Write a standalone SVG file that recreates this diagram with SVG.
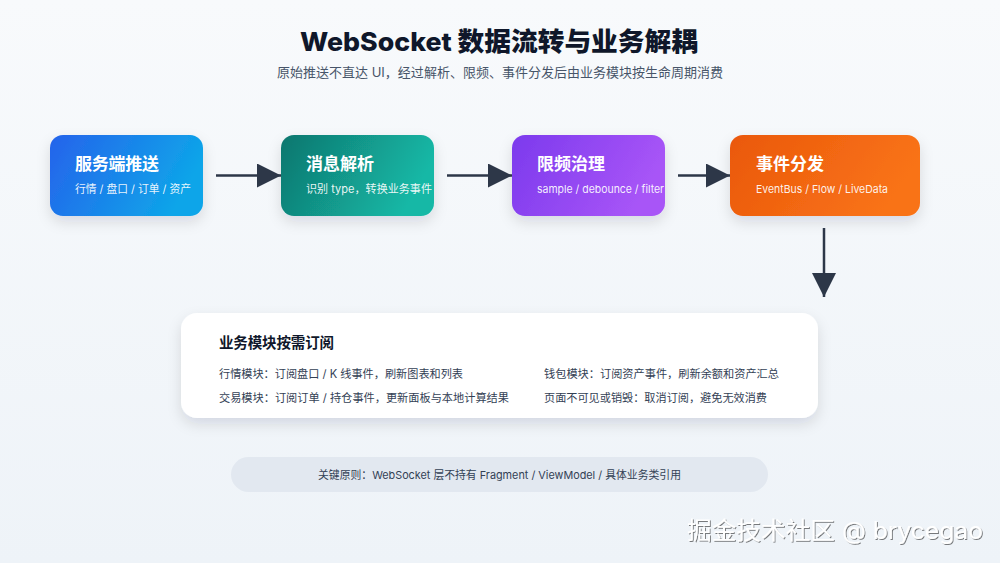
<svg xmlns="http://www.w3.org/2000/svg" width="1000" height="563" viewBox="0 0 1000 563">
<defs>
<linearGradient id="bg" x1="0" y1="0" x2="0" y2="1"><stop offset="0" stop-color="#f8fafc"/><stop offset="1" stop-color="#eef3f8"/></linearGradient>
<linearGradient id="g1" x1="0" y1="0" x2="1" y2="0.3"><stop offset="0" stop-color="#2563eb"/><stop offset="1" stop-color="#0ea5e9"/></linearGradient>
<linearGradient id="g2" x1="0" y1="0" x2="1" y2="0.3"><stop offset="0" stop-color="#0f766e"/><stop offset="1" stop-color="#14b8a6"/></linearGradient>
<linearGradient id="g3" x1="0" y1="0" x2="1" y2="0.3"><stop offset="0" stop-color="#7c3aed"/><stop offset="1" stop-color="#a855f7"/></linearGradient>
<linearGradient id="g4" x1="0" y1="0" x2="1" y2="0.3"><stop offset="0" stop-color="#ea580c"/><stop offset="1" stop-color="#f97316"/></linearGradient>
<filter id="sh" x="-20%" y="-30%" width="140%" height="170%"><feDropShadow dx="0" dy="6" stdDeviation="7" flood-color="#0f172a" flood-opacity="0.12"/></filter>
<filter id="wm" x="-5%" y="-20%" width="110%" height="140%"><feDropShadow dx="1" dy="1" stdDeviation="0.5" flood-color="#000" flood-opacity="0.5"/></filter>
<marker id="ah" viewBox="0 0 10 10" refX="10" refY="5" markerWidth="25" markerHeight="24" markerUnits="userSpaceOnUse" orient="auto"><path d="M0,0 L10,5 L0,10 Z" fill="#2d3748"/></marker>
<style>
text{font-family:Inter,"Noto Sans CJK SC",sans-serif}
.nt{font-size:17px;font-weight:700;fill:#fff}
.ns{font-size:11px;fill:#fff;fill-opacity:0.92}
.ln{stroke:#2d3748;stroke-width:2.5;fill:none}
.ct{font-size:11.3px;fill:#334155}
</style>
</defs>
<rect width="1000" height="563" fill="url(#bg)"/>
<text x="300" y="51" font-size="26" font-weight="800" fill="#0f172a" textLength="398" lengthAdjust="spacingAndGlyphs">WebSocket 数据流转与业务解耦</text>
<text x="277" y="77" font-size="13" fill="#475569" textLength="446" lengthAdjust="spacingAndGlyphs">原始推送不直达 UI，经过解析、限频、事件分发后由业务模块按生命周期消费</text>

<g id="n1"><rect x="50" y="135" width="153" height="81" rx="13" fill="url(#g1)" filter="url(#sh)"/><text x="75" y="170" class="nt" textLength="84">服务端推送</text><text x="75" y="193" class="ns" textLength="116" lengthAdjust="spacingAndGlyphs">行情 / 盘口 / 订单 / 资产</text></g>
<g id="n2"><rect x="281" y="135" width="153" height="81" rx="13" fill="url(#g2)" filter="url(#sh)"/><text x="306" y="170" class="nt" textLength="68">消息解析</text><text x="306" y="193" class="ns" textLength="126" lengthAdjust="spacingAndGlyphs">识别 type，转换业务事件</text></g>
<g id="n3"><rect x="512" y="135" width="153" height="81" rx="13" fill="url(#g3)" filter="url(#sh)"/><text x="537" y="170" class="nt" textLength="68">限频治理</text><text x="537" y="193" class="ns" textLength="127" lengthAdjust="spacingAndGlyphs">sample / debounce / filter</text></g>
<g id="n4"><rect x="730" y="135" width="190" height="81" rx="13" fill="url(#g4)" filter="url(#sh)"/><text x="756" y="170" class="nt" textLength="68">事件分发</text><text x="756" y="193" class="ns" textLength="132" lengthAdjust="spacingAndGlyphs">EventBus / Flow / LiveData</text></g>

<g id="connectors">
<line x1="216" y1="175.5" x2="281" y2="175.5" class="ln" marker-end="url(#ah)"/>
<line x1="447" y1="175.5" x2="512" y2="175.5" class="ln" marker-end="url(#ah)"/>
<line x1="678" y1="175.5" x2="730" y2="175.5" class="ln" marker-end="url(#ah)"/>
<line x1="824" y1="228" x2="824" y2="297" class="ln" marker-end="url(#ah)"/>
</g>

<g id="modules"><rect x="181" y="313" width="637" height="105" rx="16" fill="#fff" filter="url(#sh)"/>
<text x="219" y="348" font-size="14.5" font-weight="700" fill="#0f172a" textLength="115">业务模块按需订阅</text>
<text x="219" y="378" class="ct" textLength="244" lengthAdjust="spacingAndGlyphs">行情模块：订阅盘口 / K 线事件，刷新图表和列表</text>
<text x="219" y="402" class="ct" textLength="290" lengthAdjust="spacingAndGlyphs">交易模块：订阅订单 / 持仓事件，更新面板与本地计算结果</text>
<text x="544" y="378" class="ct" textLength="235" lengthAdjust="spacingAndGlyphs">钱包模块：订阅资产事件，刷新余额和资产汇总</text>
<text x="544" y="402" class="ct" textLength="223" lengthAdjust="spacingAndGlyphs">页面不可见或销毁：取消订阅，避免无效消费</text>
</g>

<g id="principle"><rect x="231" y="457" width="537" height="35" rx="17.5" fill="#e2e8f0"/>
<text x="318" y="479" font-size="11" fill="#334155" textLength="363" lengthAdjust="spacingAndGlyphs">关键原则：WebSocket 层不持有 Fragment / ViewModel / 具体业务类引用</text></g>

<text x="687" y="539" font-size="24" fill="#fff" filter="url(#wm)" textLength="296" lengthAdjust="spacingAndGlyphs">掘金技术社区 @ brycegao</text>
</svg>
